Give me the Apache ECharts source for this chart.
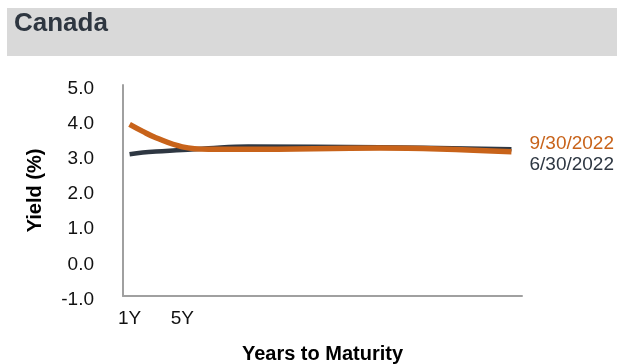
<!DOCTYPE html>
<html>
<head>
<meta charset="utf-8">
<script src="https://cdn.jsdelivr.net/npm/echarts@6/dist/echarts.min.js"></script>
<style>
html,body{margin:0;padding:0;background:#fff;}
#chart{width:626px;height:364px;}
</style>
</head>
<body>
<div id="chart"></div>
<script>
// ---- data ----
const tenors = [1, 2, 3, 5, 7, 10, 20, 30];
const yieldsJun2022 = [3.03, 3.08, 3.11, 3.15, 3.20, 3.25, 3.23, 3.17];
const yieldsSep2022 = [3.88, 3.68, 3.50, 3.24, 3.17, 3.17, 3.21, 3.10];
const seriesNames = ['6/30/2022', '9/30/2022'];
const xTickValues = [1, 5];
const xTickLabels = ['1Y', '5Y'];
const titleText = 'Canada';
const xAxisTitle = 'Years to Maturity';
const yAxisTitle = 'Yield (%)';

const FONT = "'Liberation Sans', Arial, sans-serif";
const pairs = (xs, ys) => xs.map((x, i) => [x, ys[i]]);

const chart = echarts.init(document.getElementById('chart'), null, {renderer: 'canvas'});
chart.setOption({
  animation: false,
  backgroundColor: '#ffffff',
  graphic: [
    {type: 'rect', left: 7, top: 8, shape: {width: 610, height: 48}, style: {fill: '#d9d9d9'}, silent: true},
    {type: 'text', left: 14, top: 11, style: {text: titleText, font: "bold 26px " + FONT, fill: '#2e3640'}}
  ],
  grid: {left: 123, right: 104, top: 85, bottom: 68, containLabel: false, outerBoundsMode: 'none'},
  xAxis: {
    type: 'value', min: 0.5, max: 30.8,
    name: xAxisTitle, nameLocation: 'middle', nameGap: 48, nameMoveOverlap: false,
    nameTextStyle: {fontFamily: FONT, fontWeight: 'bold', fontSize: 20, color: '#000'},
    axisLine: {show: true, onZero: false, lineStyle: {color: '#a0a0a0', width: 2}},
    axisTick: {show: false},
    splitLine: {show: false},
    axisLabel: {
      customValues: xTickValues,
      formatter: v => xTickLabels[xTickValues.indexOf(v)] ?? '',
      fontFamily: FONT, fontSize: 19, color: '#111', margin: 13
    }
  },
  yAxis: {
    type: 'value', min: -1, max: 5, interval: 1,
    name: yAxisTitle, nameLocation: 'middle', nameRotate: 90, nameGap: 78, nameMoveOverlap: false,
    nameTextStyle: {fontFamily: FONT, fontWeight: 'bold', fontSize: 20, color: '#000'},
    axisLine: {show: true, onZero: false, lineStyle: {color: '#a0a0a0', width: 2}},
    axisTick: {show: false},
    splitLine: {show: false},
    axisLabel: {formatter: v => v.toFixed(1), fontFamily: FONT, fontSize: 19, color: '#111', margin: 29,
      verticalAlign: 'top', lineHeight: 7}
  },
  series: [
    {
      name: seriesNames[0], type: 'line', smooth: 0.4, showSymbol: false,
      data: pairs(tenors, yieldsJun2022),
      lineStyle: {color: '#2e3742', width: 4.5},
      itemStyle: {color: '#2e3742'},
      endLabel: {show: true, formatter: p => p.seriesName, distance: 18, offset: [0, 15],
        fontFamily: FONT, fontSize: 19, color: '#2e3742'}
    },
    {
      name: seriesNames[1], type: 'line', smooth: 0.4, showSymbol: false,
      data: pairs(tenors, yieldsSep2022),
      lineStyle: {color: '#c8631a', width: 5.5},
      itemStyle: {color: '#c8631a'},
      endLabel: {show: true, formatter: p => p.seriesName, distance: 18, offset: [0, -8],
        fontFamily: FONT, fontSize: 19, color: '#c8631a'}
    }
  ]
});
</script>
</body>
</html>
